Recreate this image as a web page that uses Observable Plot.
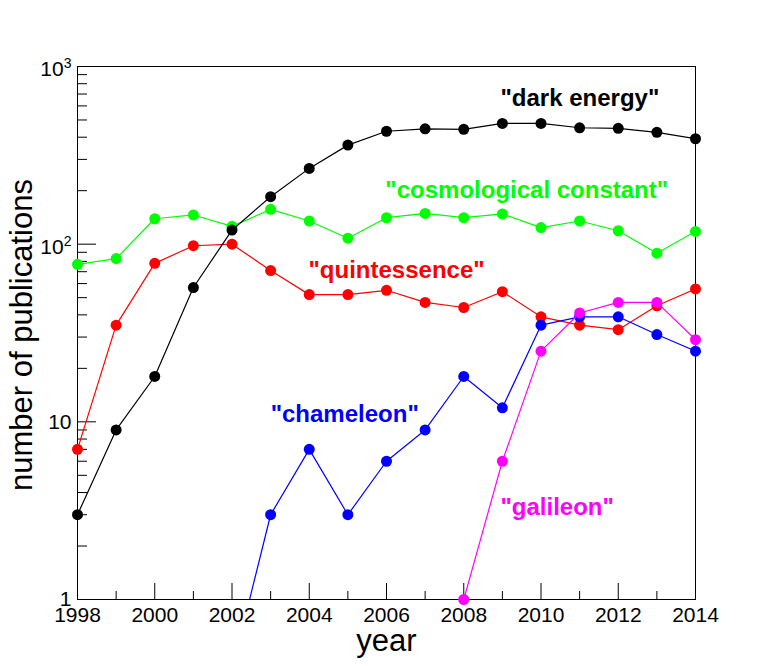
<!DOCTYPE html>
<html>
<head>
<meta charset="utf-8">
<script src="https://cdn.jsdelivr.net/npm/d3@7"></script>
<script src="https://cdn.jsdelivr.net/npm/@observablehq/plot@0.6"></script>
<style>
  html, body { margin: 0; padding: 0; background: #fff; }
  #chart { width: 772px; height: 666px; }
</style>
</head>
<body>
<div id="chart"></div>
<script>
// ---- data ----
const years = [1998, 1999, 2000, 2001, 2002, 2003, 2004, 2005, 2006, 2007, 2008, 2009, 2010, 2011, 2012, 2013, 2014];
const darkEnergy    = [3, 9, 18, 57, 120, 185, 267, 361, 432, 446, 443, 478, 478, 452, 449, 426, 392];
const cosmoConstant = [77, 83, 139, 146, 126, 157, 135, 108, 141, 149, 141, 148, 124, 135, 119, 89, 118];
const quintessence  = [7, 35, 78, 98, 100, 71, 52, 52, 55, 47, 44, 54, 39, 35, 33, 45, 56];
const chameleon     = [null, null, null, null, 0.4, 3, 7, 3, 6, 9, 18, 12, 35, 39, 39, 31, 25];
const galileon      = [null, null, null, null, null, null, null, null, null, null, 1, 6, 25, 41, 47, 47, 29];

const seriesNames  = ["cosmological constant", "quintessence", "dark energy", "chameleon", "galileon"];
const seriesValues = [cosmoConstant, quintessence, darkEnergy, chameleon, galileon];
const seriesColors = ["#00ff00", "#ff0000", "#000000", "#0000ff", "#ff00ff"];

const labelTexts  = ['"cosmological constant"', '"quintessence"', '"dark energy"', '"chameleon"', '"galileon"'];
const labelYears  = [2005.97, 2003.98, 2008.95, 2003.0, 2008.95];
const labelValues = [202, 71.7, 666, 11.0, 3.32];

const xTickYears   = [1998, 2000, 2002, 2004, 2006, 2008, 2010, 2012, 2014];
const xMinorYears  = [1999, 2001, 2003, 2005, 2007, 2009, 2011, 2013];
const yMajorTicks  = [1, 10, 100, 1000];
const yTickLabels  = ["1", "10", "10^2", "10^3"];
const yMinorTicks  = [2, 3, 4, 5, 6, 7, 8, 9, 20, 30, 40, 50, 60, 70, 80, 90, 200, 300, 400, 500, 600, 700, 800, 900];

const xTitle = "year";
const yTitle = "number of publications";

// ---- layout ----
const W = 772, H = 666;
const mL = 77, mR = 77, mT = 66, mB = 67;
const fw = W - mL - mR, fh = H - mT - mB;
const FONT = "'Liberation Sans', Arial, Helvetica, sans-serif";

const rows = [];
seriesNames.forEach((name, i) => {
  years.forEach((yr, j) => {
    const v = seriesValues[i][j];
    if (v != null) rows.push({series: name, year: yr, value: v, color: seriesColors[i]});
  });
});

const marks = [
  // inward ticks
  Plot.ruleY(yMajorTicks, {y: d => d, insetRight: fw - 19, stroke: "#000", strokeWidth: 1}),
  Plot.ruleY(yMinorTicks, {y: d => d, insetRight: fw - 10, stroke: "#000", strokeWidth: 1}),
  Plot.ruleX(xTickYears, {x: d => d, insetTop: fh - 16, stroke: "#000", strokeWidth: 1}),
  Plot.ruleX(xMinorYears, {x: d => d, insetTop: fh - 8, stroke: "#000", strokeWidth: 1}),
  Plot.frame({stroke: "#000", strokeWidth: 1}),
  Plot.axisX({ticks: xTickYears, tickFormat: d => String(d), tickSize: 0, tickPadding: 8, fontSize: 21, label: null}),
  Plot.axisY({ticks: yMajorTicks, tickFormat: d => yTickLabels[yMajorTicks.indexOf(d)], tickSize: 0, tickPadding: 6, fontSize: 21, label: null}),
  Plot.text([xTitle], {frameAnchor: "bottom", text: d => d, dy: 41.5, textAnchor: "middle", lineAnchor: "middle", fontSize: 31, fill: "#000"}),
  Plot.text([yTitle], {frameAnchor: "left", text: d => d, rotate: -90, dx: -55, dy: 2, textAnchor: "middle", lineAnchor: "middle", fontSize: 31, fill: "#000"})
];

seriesNames.forEach((name, i) => {
  const data = rows.filter(r => r.series === name);
  marks.push(Plot.line(data, {x: "year", y: "value", stroke: seriesColors[i], strokeWidth: 1.2, clip: true}));
  marks.push(Plot.dot(data.filter(r => r.value >= 1), {x: "year", y: "value", r: 5.5, fill: seriesColors[i], stroke: "none"}));
});

marks.push(Plot.text(labelTexts.map((t, i) => ({t, x: labelYears[i], y: labelValues[i], c: seriesColors[i]})), {
  x: "x", y: "y", text: "t", fill: d => d.c, textAnchor: "start", lineAnchor: "middle",
  fontSize: 24, fontWeight: "bold"
}));

const chart = Plot.plot({
  width: W, height: H,
  marginLeft: mL, marginRight: mR, marginTop: mT, marginBottom: mB,
  x: {domain: [1998, 2014]},
  y: {type: "log", domain: [1, 1000]},
  style: {fontFamily: FONT, background: "#fff", color: "#000", overflow: "visible"},
  marks
});

// superscripts for y tick labels
const ns = "http://www.w3.org/2000/svg";
chart.querySelectorAll('g[aria-label="y-axis tick label"] text').forEach(t => {
  const s = t.textContent;
  if (s.includes("^")) {
    const [base, exp] = s.split("^");
    t.textContent = "";
    const a = document.createElementNS(ns, "tspan");
    a.setAttribute("dy", "3");
    a.textContent = base;
    const b = document.createElementNS(ns, "tspan");
    b.setAttribute("dy", "-8");
    b.setAttribute("font-size", "14");
    b.textContent = exp;
    t.appendChild(a);
    t.appendChild(b);
  }
});

document.getElementById("chart").appendChild(chart);
</script>
</body>
</html>
